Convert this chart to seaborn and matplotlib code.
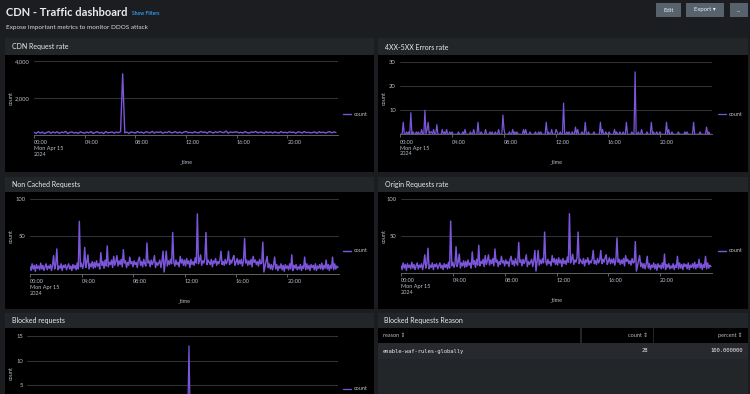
import pandas as pd
import matplotlib.pyplot as plt
from matplotlib.patches import Rectangle
from matplotlib.ticker import FuncFormatter
import seaborn as sns

W, H = 750, 394
day = "2024-04-15"

# CDN requests, 10 minute buckets
cdn_counts = [
    120, 60, 150, 80, 130, 50, 110, 160, 70, 140, 90, 150,
    60, 130, 100, 170, 50, 120, 140, 80, 110, 60, 150, 100,
    70, 130, 90, 160, 60, 110, 150, 80, 120, 50, 160, 90,
    110, 140, 70, 130, 100, 150, 3300, 90, 130, 60, 140, 110,
    80, 160, 100, 130, 70, 150, 120, 90, 170, 80, 140, 110,
    150, 70, 130, 100, 170, 90, 110, 160, 80, 140, 70, 130,
    170, 100, 120, 80, 150, 110, 90, 170, 110, 140, 70, 160,
    130, 80, 150, 100, 170, 120, 100, 190, 70, 140, 110, 130,
    150, 90, 120, 80, 160, 100, 80, 140, 110, 170, 90, 130,
    120, 70, 150, 100, 140, 80, 140, 110, 80, 160, 100, 120,
    90, 150, 110, 130, 70, 140, 130, 80, 160, 100, 120, 90,
    110, 140, 70, 150, 100, 130, 80, 120, 160, 90, 140, 110,
]
# non cached / origin requests, 5 minute buckets (one row per hour)
non_cached_counts = [
    9, 4, 13, 6, 11, 3, 12, 7, 10, 5, 14, 6,
    11, 4, 9, 13, 5, 10, 7, 12, 4, 11, 24, 6,
    12, 33, 5, 10, 7, 13, 4, 11, 8, 12, 5, 9,
    13, 6, 10, 4, 12, 7, 11, 5, 14, 6, 70, 9,
    14, 7, 12, 35, 8, 15, 25, 6, 13, 9, 16, 7,
    15, 8, 17, 10, 13, 6, 28, 11, 16, 7, 18, 10,
    37, 9, 15, 12, 18, 8, 23, 11, 16, 24, 10, 17,
    12, 19, 9, 32, 14, 17, 8, 15, 11, 22, 13, 16,
    9, 17, 12, 15, 8, 18, 22, 11, 16, 9, 19, 13,
    10, 41, 14, 17, 9, 18, 12, 16, 24, 8, 15, 11,
    14, 18, 8, 16, 30, 2, 15, 30, 10, 17, 12, 19,
    13, 55, 16, 10, 18, 12, 15, 9, 23, 14, 19, 11,
    18, 10, 20, 13, 17, 8, 19, 12, 16, 11, 21, 14,
    80, 13, 18, 25, 11, 17, 14, 20, 55, 12, 18, 15,
    12, 19, 9, 17, 14, 20, 11, 16, 13, 18, 30, 12,
    16, 11, 19, 13, 17, 30, 12, 18, 14, 20, 24, 11,
    15, 20, 12, 18, 13, 19, 10, 17, 47, 14, 18, 11,
    17, 12, 19, 9, 23, 15, 18, 12, 16, 10, 19, 13,
    14, 42, 2, 9, 16, 23, 8, 13, 6, 12, 5, 11,
    22, 6, 12, 4, 10, 7, 13, 5, 11, 3, 12, 7,
    10, 5, 13, 6, 25, 4, 11, 7, 12, 5, 9, 6,
    12, 4, 10, 7, 22, 5, 13, 6, 11, 4, 12, 8,
    11, 5, 13, 4, 10, 7, 12, 6, 14, 5, 11, 7,
    18, 6, 12, 4, 11, 7, 22, 5, 13, 6, 10, 8,
]
origin_counts = [
    9, 4, 13, 6, 11, 3, 12, 7, 10, 5, 14, 6,
    11, 4, 9, 13, 5, 10, 7, 12, 4, 11, 24, 6,
    12, 33, 5, 10, 7, 13, 4, 11, 8, 12, 5, 9,
    13, 6, 10, 4, 12, 7, 11, 5, 14, 6, 70, 9,
    14, 7, 12, 35, 8, 15, 25, 6, 13, 9, 16, 7,
    15, 8, 17, 10, 13, 6, 28, 11, 16, 7, 18, 10,
    37, 9, 15, 12, 18, 8, 23, 11, 16, 24, 10, 17,
    12, 19, 9, 32, 14, 17, 8, 15, 11, 22, 13, 16,
    9, 17, 12, 15, 8, 18, 22, 11, 16, 9, 19, 13,
    10, 41, 14, 17, 9, 18, 12, 16, 24, 8, 15, 11,
    14, 18, 8, 16, 30, 2, 15, 30, 10, 17, 12, 19,
    13, 55, 16, 10, 18, 12, 15, 9, 23, 14, 19, 11,
    18, 10, 20, 13, 17, 8, 19, 12, 16, 11, 21, 14,
    80, 13, 18, 25, 11, 17, 14, 20, 55, 12, 18, 15,
    12, 19, 9, 17, 14, 20, 11, 16, 13, 18, 30, 12,
    16, 11, 19, 13, 17, 30, 12, 18, 14, 20, 24, 11,
    15, 20, 12, 18, 13, 19, 10, 17, 47, 14, 18, 11,
    17, 12, 19, 9, 23, 15, 18, 12, 16, 10, 19, 13,
    14, 42, 2, 9, 16, 23, 8, 13, 6, 12, 5, 11,
    22, 6, 12, 4, 10, 7, 13, 5, 11, 3, 12, 7,
    10, 5, 13, 6, 25, 4, 11, 7, 12, 5, 9, 6,
    12, 4, 10, 7, 22, 5, 13, 6, 11, 4, 12, 8,
    11, 5, 13, 4, 10, 7, 12, 6, 14, 5, 11, 7,
    18, 6, 12, 4, 11, 7, 22, 5, 13, 6, 10, 8,
]

# error events (everything else is 0)
error_times = [
    "00:15", "00:30", "00:40", "00:50", "01:00", "01:15", "01:25", "01:40",
    "01:55", "02:05", "02:10", "02:20", "02:25", "02:35", "02:50", "03:15",
    "03:25", "03:35", "03:50", "04:00", "04:30", "04:50", "05:00", "05:25",
    "05:40", "06:00", "06:15", "06:35", "06:55", "07:05", "07:20", "07:35",
    "07:55", "08:00", "08:25", "08:40", "08:50", "09:00", "09:30", "09:40",
    "10:00", "10:25", "10:40", "10:50", "11:15", "11:25", "11:40", "12:00",
    "12:05", "12:20", "12:35", "12:50", "13:00", "13:15", "13:30", "13:40",
    "14:00", "14:15", "14:30", "14:55", "15:25", "15:35", "15:50", "16:05",
    "16:30", "16:40", "16:55", "17:10", "17:25", "17:50", "18:05", "18:20",
    "18:35", "19:00", "19:20", "19:30", "19:45", "20:00", "20:30", "20:40",
    "20:55", "21:25", "21:55", "22:05", "22:35", "23:05", "23:35", "23:45",
]
error_counts = [
    5, 1, 1, 9, 1, 1, 1, 2,
    10, 2, 5, 1, 1, 2, 4, 2,
    1, 2, 1, 1, 1, 1, 2, 1,
    2, 5, 1, 2, 1, 1, 1, 2,
    8, 2, 1, 2, 1, 1, 2, 2,
    1, 1, 1, 1, 5, 1, 2, 2,
    1, 1, 13, 1, 1, 1, 3, 2,
    1, 5, 1, 1, 5, 2, 1, 1,
    2, 1, 1, 1, 5, 1, 26, 1,
    2, 1, 5, 1, 1, 1, 5, 2,
    1, 1, 1, 1, 5, 1, 3, 1,
]

blocked_times = ["02:15", "05:40", "08:25", "10:50", "12:30", "14:05", "16:30", "19:10", "21:45"]
blocked_counts = [2, 2, 2, 2, 13, 2, 2, 2, 1]

tick_labels = ["00:00\nMon Apr 15\n2024", "04:00", "08:00", "12:00", "16:00", "20:00"]
reason_columns = ["reason", "count", "percent"]
reason_rows = [["enable-waf-rules-globally", "28", "100.000000"]]

PURPLE = "#7b56db"
PAGE = "#1b1d21"
HEAD = "#232629"
ROW = "#27292e"
GRID = "#3a3d42"
TXT = "#e9ecef"
TICK = "#b8bec5"

sns.set_style("dark", {"axes.facecolor": "black", "figure.facecolor": PAGE})
plt.rcParams["font.family"] = ["Lato", "DejaVu Sans"]

start = pd.Timestamp(day)
end = start + pd.Timedelta(hours=24)
t10 = pd.date_range(start, periods=len(cdn_counts), freq="10min")
t5 = pd.date_range(start, periods=len(non_cached_counts), freq="5min")
grid5 = pd.date_range(start, end, freq="5min", inclusive="left")


def sparse_frame(times, counts):
    s = pd.Series(counts, index=pd.to_datetime([f"{day} {t}" for t in times]))
    s = s.resample("5min").sum().reindex(grid5, fill_value=0)
    return pd.DataFrame({"_time": s.index, "count": s.values})


cdn_df = pd.DataFrame({"_time": t10, "count": cdn_counts})
non_cached_df = pd.DataFrame({"_time": t5, "count": non_cached_counts})
origin_df = pd.DataFrame({"_time": t5, "count": origin_counts})
errors_df = sparse_frame(error_times, error_counts)
blocked_df = sparse_frame(blocked_times, blocked_counts)

fig = plt.figure(figsize=(7.5, 3.94), dpi=100)
fig.patch.set_facecolor(PAGE)


def box(x, y, w, h, color):
    fig.add_artist(Rectangle((x / W, 1 - (y + h) / H), w / W, h / H, transform=fig.transFigure,
                             facecolor=color, edgecolor="none", zorder=-1))


def ftext(x, y, s, **kw):
    kw.setdefault("va", "center")
    fig.text(x / W, 1 - y / H, s, **kw)


def chart(rect, df, ymax, yticks, legend_at, ylab_x, show_x=True, lw=0.9):
    x0, y0, x1, y1 = rect
    ax = fig.add_axes([x0 / W, 1 - y1 / H, (x1 - x0) / W, (y1 - y0) / H])
    sns.lineplot(data=df, x="_time", y="count", ax=ax, color=PURPLE, linewidth=lw, label="count")
    ax.set_facecolor("black")
    ax.set_xlim(start, end)
    ax.set_ylim(0, ymax)
    ax.set_yticks(yticks)
    ax.yaxis.set_major_formatter(FuncFormatter(lambda v, p: f"{v:,.0f}"))
    ax.set_xticks(pd.date_range(start, periods=6, freq="4h"))
    ax.set_xticklabels(tick_labels, ha="left", va="top", multialignment="left")
    ax.tick_params(axis="x", bottom=True, length=2.5, width=0.6, color="#6d7278",
                   labelsize=4, labelcolor=TICK, pad=1.5, labelbottom=show_x)
    ax.tick_params(axis="y", length=0, labelsize=4.2, labelcolor=TICK, pad=3)
    ax.grid(axis="y", color=GRID, linewidth=0.6)
    ax.grid(axis="x", visible=False)
    for side in ["top", "right", "left"]:
        ax.spines[side].set_visible(False)
    ax.spines["bottom"].set_color("#6d7278")
    ax.spines["bottom"].set_linewidth(0.6)
    ax.set_xlabel("_time" if show_x else "", fontsize=4, color=TICK, labelpad=2)
    ax.set_ylabel("count", fontsize=4, color=TICK)
    ax.yaxis.set_label_coords((ylab_x - x0) / (x1 - x0), 0.5)
    lx, ly = legend_at
    ax.legend(loc="center left", bbox_to_anchor=(lx / W, 1 - ly / H), bbox_transform=fig.transFigure,
              frameon=False, fontsize=4, labelcolor=TICK, handlelength=1.4, handletextpad=0.5,
              borderpad=0, borderaxespad=0)
    return ax


# page header
ftext(6, 12, "CDN - Traffic dashboard", fontsize=8, fontweight="bold", color=TXT)
ftext(132, 13.5, "Show Filters", fontsize=3.6, fontweight="bold", color="#2d9ce8")
ftext(6, 27.5, "Expose important metrics to monitor DDOS attack", fontsize=4.6, color="#d6dadf")
for bx, bw, label in [(656, 25, "Edit"), (686, 38, "Export ▾"), (730, 18, "...")]:
    box(bx, 3, bw, 14, "#58626d")
    ftext(bx + bw / 2, 10, label, fontsize=4.3, color=TXT, ha="center")

# panel backgrounds and titles
panels = [
    (5, 38, 369, 17, 117, "CDN Request rate"),
    (378, 38, 370, 17, 117, "4XX-5XX Errors rate"),
    (5, 177, 369, 15, 117, "Non Cached Requests"),
    (378, 177, 370, 15, 117, "Origin Requests rate"),
    (5, 313, 369, 15, 66, "Blocked requests"),
]
for px, py, pw, ph, bh, title in panels:
    box(px, py, pw, ph, HEAD)
    box(px, py + ph, pw, bh, "black")
    ftext(px + 7, py + ph / 2 + 0.5, title, fontsize=5, color=TXT)

chart((34, 61, 338, 134.5), cdn_df, 4000, [2000, 4000], (343, 114), 14, lw=1.0)
chart((400, 62.3, 712, 134.3), errors_df, 30, [10, 20, 30], (718, 114), 387)
chart((30, 199, 339, 273.5), non_cached_df, 100, [50, 100], (343, 251), 14, lw=1.05)
chart((401, 199, 712, 272.5), origin_df, 100, [50, 100], (718, 251), 387, lw=1.05)
chart((27, 336, 338, 410), blocked_df, 15, [5, 10, 15], (343, 389), 14, show_x=False)

# table panel
box(378, 313, 370, 81, HEAD)
ftext(384, 321, "Blocked Requests Reason", fontsize=5, color=TXT)
box(378, 328, 370, 15, "black")
box(580, 328, 1.5, 15, HEAD)
box(652.5, 328, 1.5, 15, HEAD)
box(378, 343, 370, 15.5, ROW)
col_pos = [(383, "left"), (648, "right"), (743, "right")]
for (cx, ha), name in zip(col_pos, reason_columns):
    ftext(cx, 335.5, name + " ⇕", fontsize=4, color=TICK, ha=ha)
for r, row in enumerate(reason_rows):
    for (cx, ha), val in zip(col_pos, row):
        ftext(cx, 351 + 15.5 * r, val, fontsize=4, color=TXT, ha=ha, family="DejaVu Sans Mono")

fig.savefig("out.png", dpi=100, facecolor=PAGE)
